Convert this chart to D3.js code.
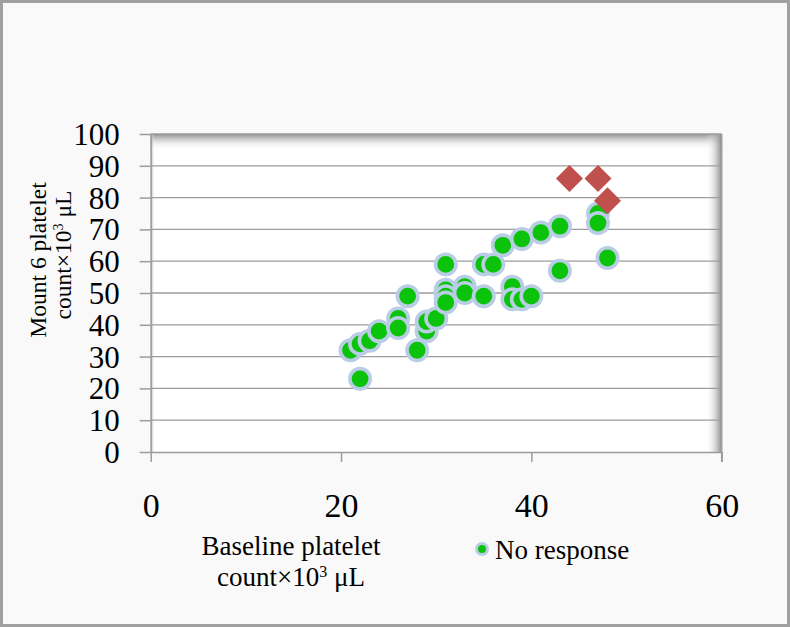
<!DOCTYPE html>
<html>
<head>
<meta charset="utf-8">
<script src="https://cdn.jsdelivr.net/npm/d3@7"></script>
<style>
  body { margin: 0; background: #fff; }
  svg { display: block; font-family: "Liberation Serif", "DejaVu Serif", serif; }
</style>
</head>
<body>
<svg id="chart" width="790" height="627"></svg>
<script>
// values
const noResponseX = [21, 22, 22, 23, 24, 26, 26, 27, 28, 29, 29, 30, 31, 31, 31, 31, 33, 33, 35, 35, 36, 37, 39, 41, 43, 43, 38, 38, 39, 40, 47, 47, 48];
const noResponseY = [32, 23, 34, 35, 38, 42, 39, 49, 32, 38, 41, 42, 59, 51, 49, 47, 52, 50, 49, 59, 59, 65, 67, 69, 71, 57, 52, 48, 48, 49, 75, 72, 61];
const responseX = [44, 47, 48];
const responseY = [86, 86, 79];
const xTicks = [0, 20, 40, 60];
const yTicks = [0, 10, 20, 30, 40, 50, 60, 70, 80, 90, 100];

const svg = d3.select('#chart');
const W = 790, H = 627;
const pLeft = 150.7, pRight = 721.7, pTop = 134, pBottom = 452;

const x = d3.scaleLinear().domain([0, 60]).range([pLeft, pRight]);
const y = d3.scaleLinear().domain([0, 100]).range([pBottom, pTop]);

// outer frame
svg.append('rect')
  .attr('x', 1.5).attr('y', 1.5)
  .attr('width', W - 3).attr('height', H - 3)
  .attr('fill', '#f9f9f9')
  .attr('stroke', '#a0a0a0')
  .attr('stroke-width', 3);

const defs = svg.append('defs');
const gTop = defs.append('linearGradient').attr('id', 'shTop')
  .attr('x1', 0).attr('y1', 0).attr('x2', 0).attr('y2', 1);
gTop.append('stop').attr('offset', 0).attr('stop-color', '#8f8f8f');
gTop.append('stop').attr('offset', 1).attr('stop-color', '#ffffff').attr('stop-opacity', 0);
const gRight = defs.append('linearGradient').attr('id', 'shRight')
  .attr('x1', 0).attr('y1', 0).attr('x2', 1).attr('y2', 0);
gRight.append('stop').attr('offset', 0).attr('stop-color', '#ffffff').attr('stop-opacity', 0);
gRight.append('stop').attr('offset', 1).attr('stop-color', '#8a8a8a');
const gLeft = defs.append('linearGradient').attr('id', 'shLeft')
  .attr('x1', 0).attr('y1', 0).attr('x2', 1).attr('y2', 0);
gLeft.append('stop').attr('offset', 0).attr('stop-color', '#9a9a9a');
gLeft.append('stop').attr('offset', 1).attr('stop-color', '#ffffff').attr('stop-opacity', 0);

// plot area
svg.append('rect')
  .attr('x', pLeft).attr('y', pTop)
  .attr('width', pRight - pLeft).attr('height', pBottom - pTop)
  .attr('fill', '#ffffff');
svg.append('rect')
  .attr('x', pLeft).attr('y', pTop)
  .attr('width', pRight - pLeft).attr('height', 16)
  .attr('fill', 'url(#shTop)');
svg.append('rect')
  .attr('x', pRight - 16).attr('y', pTop)
  .attr('width', 16).attr('height', pBottom - pTop)
  .attr('fill', 'url(#shRight)');
svg.append('rect')
  .attr('x', pLeft).attr('y', pTop)
  .attr('width', 4).attr('height', pBottom - pTop)
  .attr('fill', 'url(#shLeft)');

// gridlines
svg.append('g')
  .selectAll('line')
  .data(yTicks.filter(d => d > 0))
  .enter()
  .append('line')
  .attr('x1', pLeft).attr('x2', pRight)
  .attr('y1', d => y(d)).attr('y2', d => y(d))
  .attr('stroke', '#9c9c9c')
  .attr('stroke-width', 1.3);

// y axis
const yAxis = svg.append('g')
  .attr('transform', `translate(${pLeft},0)`)
  .call(d3.axisLeft(y).tickValues(yTicks).tickSize(11).tickSizeOuter(0));
yAxis.select('.domain').attr('stroke', '#9c9c9c').attr('stroke-width', 1.5);
yAxis.selectAll('.tick line').attr('stroke', '#9c9c9c').attr('stroke-width', 1.5);
yAxis.selectAll('.tick text')
  .attr('font-size', 31)
  .attr('font-family', '"Liberation Serif", serif')
  .attr('fill', '#000')
  .attr('x', -31)
  .attr('dy', '0.34em');

// x axis
const xAxis = svg.append('g')
  .attr('transform', `translate(0,${pBottom})`)
  .call(d3.axisBottom(x).tickValues(xTicks).tickSize(10).tickSizeOuter(0));
xAxis.select('.domain').attr('stroke', '#9c9c9c').attr('stroke-width', 1.5);
xAxis.selectAll('.tick line').attr('stroke', '#9c9c9c').attr('stroke-width', 1.5);
xAxis.selectAll('.tick text')
  .attr('font-size', 34)
  .attr('font-family', '"Liberation Serif", serif')
  .attr('fill', '#000')
  .attr('y', 65)
  .attr('dy', 0);

// right edge line
svg.append('line')
  .attr('x1', pRight).attr('x2', pRight)
  .attr('y1', pTop).attr('y2', pBottom + 10)
  .attr('stroke', '#9c9c9c').attr('stroke-width', 1.5);

// points: no response
const noResp = noResponseX.map((v, i) => ({x: v, y: noResponseY[i]}));
svg.append('g')
  .selectAll('circle')
  .data(noResp)
  .enter()
  .append('circle')
  .attr('cx', d => x(d.x))
  .attr('cy', d => y(d.y))
  .attr('r', 10.2)
  .attr('fill', '#0cc30c')
  .attr('stroke', '#b9cde5')
  .attr('stroke-width', 3.6);

// points: response (diamonds)
const resp = responseX.map((v, i) => ({x: v, y: responseY[i]}));
svg.append('g')
  .selectAll('path')
  .data(resp)
  .enter()
  .append('path')
  .attr('transform', d => `translate(${x(d.x)},${y(d.y)})`)
  .attr('d', 'M0,-13.5L13.5,0L0,13.5L-13.5,0Z')
  .attr('fill', '#c0504d');

// axis titles
svg.append('text')
  .attr('text-anchor', 'middle')
  .attr('font-size', 27)
  .attr('fill', '#000')
  .attr('x', 291).attr('y', 555)
  .text('Baseline platelet');
const xt2 = svg.append('text')
  .attr('text-anchor', 'middle')
  .attr('font-size', 27)
  .attr('fill', '#000')
  .attr('x', 291).attr('y', 586);
xt2.append('tspan').text('count×10');
xt2.append('tspan').attr('font-size', 16).attr('dy', -9).text('3');
xt2.append('tspan').attr('dy', 9).text(' μL');

svg.append('text')
  .attr('text-anchor', 'middle')
  .attr('font-size', 23.5)
  .attr('fill', '#000')
  .attr('transform', 'translate(46,260) rotate(-90)')
  .text('Mount 6 platelet');
const yt2 = svg.append('text')
  .attr('text-anchor', 'middle')
  .attr('font-size', 23.5)
  .attr('fill', '#000')
  .attr('transform', 'translate(71,255) rotate(-90)');
yt2.append('tspan').text('count×10');
yt2.append('tspan').attr('font-size', 14).attr('dy', -8).text('3');
yt2.append('tspan').attr('dy', 8).text(' μL');

// legend
svg.append('circle')
  .attr('cx', 482).attr('cy', 549)
  .attr('r', 5.5)
  .attr('fill', '#0cc30c')
  .attr('stroke', '#b9cde5')
  .attr('stroke-width', 3);
svg.append('text')
  .attr('x', 495).attr('y', 559)
  .attr('font-size', 27)
  .attr('fill', '#000')
  .text('No response');
</script>
</body>
</html>
